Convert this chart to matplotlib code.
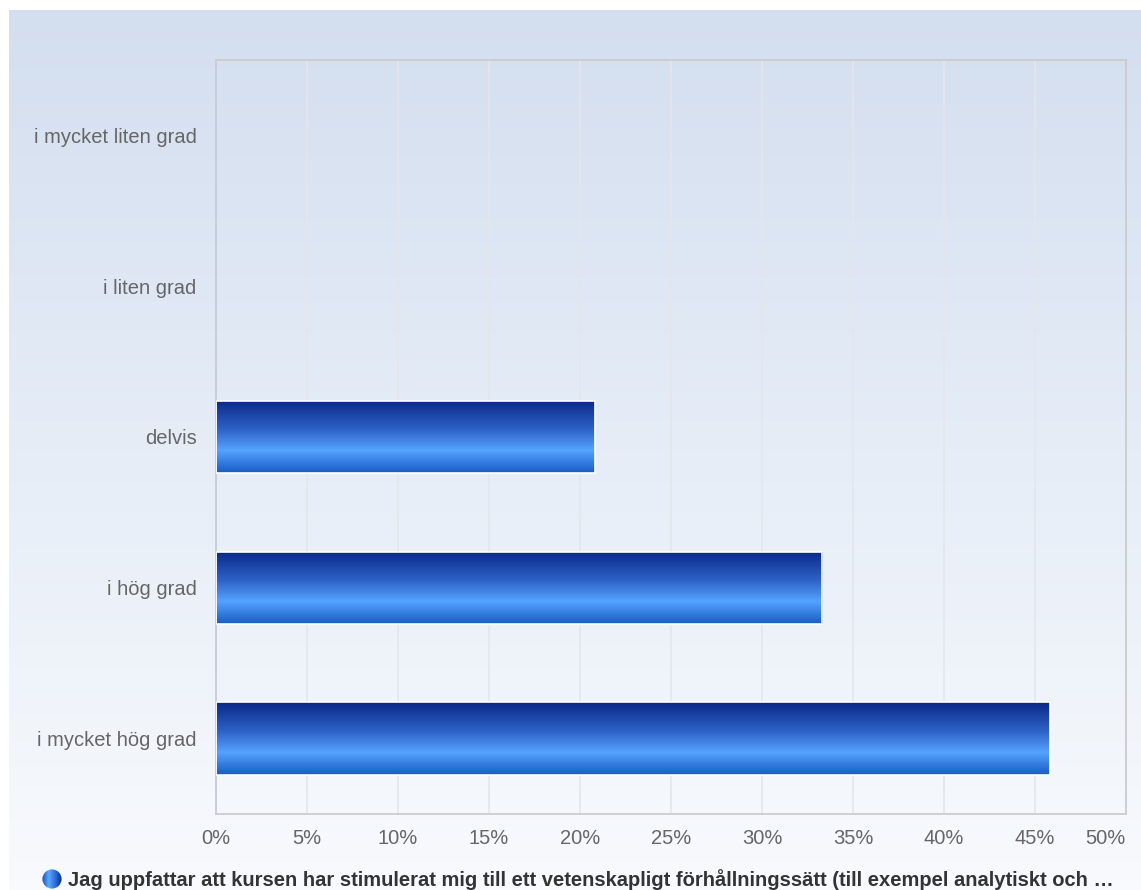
import numpy as np
import matplotlib
matplotlib.use("Agg")
import matplotlib.pyplot as plt
from matplotlib.colors import LinearSegmentedColormap
from matplotlib.patches import Circle

plt.rcParams['font.family'] = ['Liberation Sans', 'DejaVu Sans']

categories = ["i mycket liten grad", "i liten grad", "delvis", "i hög grad", "i mycket hög grad"]
values = [0.0, 0.0, 20.8, 33.3, 45.8]
xticks = [0, 5, 10, 15, 20, 25, 30, 35, 40, 45, 50]
legend_label = "Jag uppfattar att kursen har stimulerat mig till ett vetenskapligt förhållningssätt (till exempel analytiskt och …"

W, H = 1141, 890
fig = plt.figure(figsize=(W / 100, H / 100), dpi=100)
fig.patch.set_facecolor("white")

# background gradient panel
bg = fig.add_axes([9 / W, 0, 1 - 9 / W, 880 / H], zorder=-10)
bg_cmap = LinearSegmentedColormap.from_list("bg", ["#d3deef", "#e6edf7", "#f8fafd"])
bg.imshow(np.linspace(0, 1, 256).reshape(-1, 1), aspect="auto", cmap=bg_cmap,
          extent=[0, 1, 0, 1], origin="upper")
bg.set_axis_off()

left, right, top, bottom = 216, 1126, 60, 814
ax = fig.add_axes([left / W, (H - bottom) / H, (right - left) / W, (bottom - top) / H])
ax.set_facecolor("none")

y = np.arange(len(categories))
bars = ax.barh(y, values, height=0.48, color="none", edgecolor="white", linewidth=1.2, zorder=3)

bar_cmap = LinearSegmentedColormap.from_list(
    "bar", [(0.0, "#0a2888"), (0.4, "#2e62c6"), (0.69, "#55a3ff"), (1.0, "#175cc4")])
grad = np.linspace(0, 1, 256).reshape(-1, 1)
for b in bars:
    if b.get_width() <= 0:
        b.set_edgecolor("none")
        continue
    x0, y0, w, h = b.get_x(), b.get_y(), b.get_width(), b.get_height()
    im = ax.imshow(grad, aspect="auto", cmap=bar_cmap,
                   extent=[x0, x0 + w, y0 + h, y0], origin="upper", zorder=2)
    im.set_clip_path(b)

ax.set_xlim(0, 50)
ax.set_ylim(len(categories) - 0.5, -0.5)
ax.set_yticks(y)
ax.set_yticklabels(categories)
ax.set_xticks(xticks)
ax.set_xticklabels([f"{t}%" for t in xticks])
ax.xaxis.get_ticklabels()[-1].set_horizontalalignment("right")
ax.tick_params(axis="both", length=0, colors="#666666", labelsize=14.5)
ax.tick_params(axis="y", pad=14)
ax.tick_params(axis="x", pad=11)
ax.set_aspect("auto")

ax.grid(axis="x", color="#e4e6ea", linewidth=1.2, zorder=0)
ax.set_axisbelow(True)
for s in ["top", "right", "bottom"]:
    ax.spines[s].set_color("#cccccc")
    ax.spines[s].set_linewidth(1.3)
ax.spines["left"].set_color("#c4ccd9")
ax.spines["left"].set_linewidth(1.3)

# legend marker with gradient
lx, ly, r = 52, 879, 10
cax = fig.add_axes([(lx - r) / W, (H - ly - r) / H, 2 * r / W, 2 * r / H])
cax.set_xlim(0, 1)
cax.set_ylim(0, 1)
cax.set_axis_off()
circ = Circle((0.5, 0.5), 0.48, transform=cax.transData, facecolor="none", edgecolor="none")
cax.add_patch(circ)
leg_cmap = LinearSegmentedColormap.from_list("leg", ["#1a4fb8", "#5aa8ff", "#2c6fd8", "#0a2c8c"])
gim = cax.imshow(np.linspace(0, 1, 64).reshape(1, -1), aspect="auto", cmap=leg_cmap,
                 extent=[0, 1, 0, 1])
gim.set_clip_path(circ)

fig.text(68 / W, 1 - 880 / H, legend_label, ha="left", va="center",
         fontsize=14.5, fontweight="bold", color="#333333")

fig.savefig("out.png", dpi=100)
